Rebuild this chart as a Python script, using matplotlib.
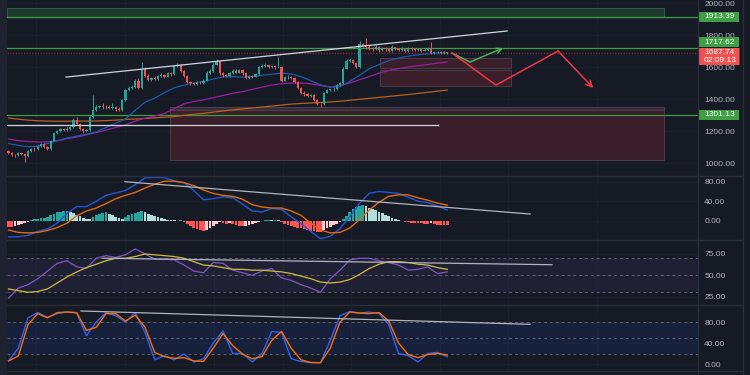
"""
Price chart with MACD / RSI / Stoch panels (dark theme)
"""
import numpy as np
import matplotlib
matplotlib.use("Agg")
import matplotlib.pyplot as plt
from matplotlib.lines import Line2D
from matplotlib.patches import Rectangle
from matplotlib.transforms import blended_transform_factory, ScaledTranslation

plt.rcParams['font.family'] = ['Liberation Sans', 'DejaVu Sans']

# ---------------- data ----------------
first_open = 1075
closes = [1062, 1052, 1048, 1060, 1058, 1046, 1075, 1090, 1085, 1108,
          1118, 1102, 1088, 1140, 1188, 1200, 1210, 1205, 1215, 1222,
          1268, 1245, 1215, 1198, 1205, 1285, 1330, 1350, 1355, 1348,
          1352, 1345, 1350, 1340, 1330, 1395, 1455, 1470, 1475, 1515,
          1470, 1590, 1545, 1520, 1530, 1525, 1545, 1550, 1540, 1560,
          1555, 1608, 1612, 1575, 1545, 1505, 1498, 1495, 1502, 1500,
          1515, 1565, 1575, 1615, 1640, 1560, 1548, 1542, 1560, 1578,
          1565, 1580, 1560, 1530, 1545, 1540, 1555, 1600, 1608, 1612,
          1602, 1605, 1598, 1600, 1515, 1535, 1540, 1530, 1505, 1470,
          1440, 1430, 1420, 1425, 1395, 1370, 1368, 1440, 1455, 1460,
          1462, 1490, 1498, 1590, 1640, 1645, 1625, 1600, 1742, 1730,
          1725, 1718, 1712, 1728, 1705, 1718, 1710, 1700, 1722, 1712,
          1708, 1714, 1700, 1718, 1710, 1705, 1712, 1702, 1708, 1714,
          1688, 1692, 1695, 1688, 1692, 1687.74]
highs = [1082, 1068, 1058, 1066, 1068, 1064, 1080, 1095, 1098, 1114,
         1125, 1124, 1108, 1146, 1194, 1208, 1216, 1218, 1222, 1230,
         1280, 1290, 1250, 1220, 1212, 1292, 1425, 1362, 1365, 1375,
         1362, 1360, 1372, 1356, 1348, 1400, 1462, 1480, 1490, 1522,
         1530, 1630, 1600, 1555, 1540, 1545, 1552, 1560, 1558, 1568,
         1568, 1615, 1622, 1620, 1580, 1550, 1515, 1508, 1510, 1512,
         1522, 1572, 1585, 1622, 1650, 1645, 1568, 1556, 1566, 1585,
         1590, 1588, 1585, 1565, 1550, 1552, 1562, 1606, 1620, 1624,
         1618, 1612, 1610, 1662, 1605, 1542, 1548, 1545, 1535, 1510,
         1475, 1448, 1436, 1432, 1430, 1400, 1378, 1446, 1462, 1468,
         1472, 1496, 1506, 1598, 1648, 1655, 1652, 1632, 1762, 1750,
         1781, 1735, 1728, 1736, 1734, 1726, 1724, 1716, 1740, 1728,
         1720, 1722, 1720, 1725, 1724, 1718, 1720, 1718, 1716, 1722,
         1756, 1700, 1702, 1700, 1698, 1695]
lows = [1055, 1045, 1040, 1044, 1050, 1006, 1040, 1070, 1078, 1080,
        1100, 1096, 1082, 1084, 1136, 1182, 1195, 1198, 1200, 1208,
        1218, 1240, 1208, 1190, 1192, 1200, 1280, 1325, 1342, 1340,
        1340, 1335, 1338, 1325, 1322, 1326, 1390, 1448, 1462, 1468,
        1462, 1465, 1535, 1512, 1510, 1518, 1520, 1538, 1530, 1535,
        1546, 1550, 1600, 1568, 1538, 1498, 1490, 1486, 1488, 1492,
        1495, 1510, 1558, 1570, 1610, 1552, 1540, 1535, 1536, 1555,
        1560, 1560, 1552, 1522, 1525, 1532, 1535, 1550, 1595, 1600,
        1595, 1596, 1590, 1592, 1508, 1510, 1528, 1522, 1498, 1462,
        1432, 1420, 1410, 1412, 1388, 1362, 1352, 1362, 1435, 1448,
        1452, 1456, 1484, 1494, 1585, 1632, 1618, 1592, 1596, 1722,
        1715, 1705, 1700, 1705, 1695, 1698, 1700, 1692, 1695, 1704,
        1700, 1702, 1692, 1695, 1702, 1698, 1700, 1695, 1698, 1702,
        1682, 1682, 1686, 1682, 1684, 1684]

# moving averages / indicator lines, sampled every 3rd candle
ma_blue = [1122, 1110, 1102, 1105, 1122, 1140, 1156, 1168, 1180, 1195,
           1222, 1250, 1275, 1330, 1380, 1405, 1440, 1470, 1487, 1500,
           1510, 1525, 1538, 1540, 1537, 1540, 1548, 1555, 1562, 1556,
           1540, 1515, 1488, 1475, 1476, 1510, 1548, 1590, 1615, 1640,
           1656, 1668, 1676, 1683, 1687, 1689]
ma_purple = [1150, 1140, 1134, 1131, 1132, 1138, 1152, 1162, 1176, 1190,
             1206, 1222, 1238, 1262, 1280, 1293, 1310, 1340, 1370, 1384,
             1394, 1408, 1422, 1436, 1446, 1460, 1474, 1487, 1495, 1500,
             1500, 1495, 1484, 1474, 1485, 1500, 1520, 1540, 1562, 1578,
             1590, 1600, 1608, 1616, 1624, 1631]
ma_orange = [1281, 1274, 1268, 1264, 1262, 1261, 1261, 1262, 1262, 1263,
             1265, 1268, 1272, 1275, 1278, 1282, 1286, 1290, 1298, 1305,
             1310, 1318, 1325, 1332, 1338, 1344, 1350, 1356, 1362, 1368,
             1372, 1375, 1378, 1381, 1386, 1392, 1398, 1404, 1410, 1416,
             1422, 1428, 1435, 1442, 1449, 1456]

macd_line = [-33, -33, -30, -22, -17, -5, 15, 29, 29, 40,
             52, 57, 62, 74, 88, 89, 88, 82, 78, 62,
             43, 45, 49, 47, 34, 20, 18, 25, 23, 8,
             -6, -22, -37, -32, -16, 8, 36, 56, 60, 58,
             56, 48, 40, 37, 30, 22]
signal_line = [-19, -24, -25, -24, -20, -14, -5, 10, 20, 26,
               35, 45, 52, 58, 67, 75, 81, 81, 78, 72,
               63, 56, 52, 50, 44, 33, 28, 26, 26, 20,
               11, -5, -19, -25, -24, -15, 2, 22, 38, 50,
               53, 53, 47, 42, 36, 32]
macd_hist = [-12, -12, -11, -9, -7, -5, -2, 1, 3, 4,
             5, 6, 8, 11, 14, 17, 18, 19, 19, 18,
             15, 12, 9, 6, 4, 3, 7, 11, 14, 16,
             17, 14, 11, 8, 5, 4, 8, 12, 14, 16,
             17, 19, 17, 14, 12, 10, 8, 6, 4, 2,
             1, 0.5, -1, 0.5, -3, -6, -10, -14, -17, -19,
             -21, -19, -15, -11, -7, -3, -4, -6, -5, -7,
             -9, -10, -11, -10, -8, -6, -4, -2, -1, 1,
             1.5, 1, 1.5, 0.5, -3, -6, -8, -10, -12, -14,
             -16, -18, -20, -21, -22, -23, -23, -20, -16, -12,
             -9, -6, -3, 3, 10, 18, 24, 28, 31, 32,
             30, 27, 24, 21, 18, 15, 12, 9, 6, 4,
             2, -1, -2, -3, -4, -5, -5, -5, -6, -6,
             -5, -7, -8, -8, -8, -9]

rsi = [23, 35, 39, 46, 55, 64, 67, 60, 58, 70,
       73, 71, 74, 81, 75, 69, 69, 68, 62, 55,
       53, 65, 64, 56, 53, 50, 55, 58, 47, 44,
       39, 35, 30, 46, 56, 68, 70, 70, 67, 65,
       62, 56, 57, 60, 52, 54]
rsi_ma = [34, 32, 30, 31, 34, 41, 48, 54, 59, 63,
          67, 70, 70, 72, 75, 74, 73, 72, 70, 66,
          62, 61, 59, 57, 57, 56, 56, 55, 54, 52,
          49, 46, 42, 41, 42, 45, 51, 58, 63, 66,
          66, 65, 63, 62, 59, 57]

stoch_k = [6, 30, 88, 98, 89, 96, 99, 97, 54, 80,
           98, 92, 80, 98, 60, 8, 16, 8, 19, 4,
           10, 40, 63, 20, 20, 4, 20, 62, 60, 10,
           5, 2.5, 2.5, 45, 92, 100, 97, 99, 96, 75,
           20, 16, 4, 20, 22, 14]
stoch_d = [6, 15, 75, 96, 88, 98, 99, 98, 64, 70,
           96, 96, 82, 93, 70, 22, 14, 11, 12, 6,
           5, 30, 58, 35, 19, 10, 14, 45, 62, 30,
           8, 3, 2.5, 30, 80, 99, 97, 96, 98, 82,
           40, 18, 12, 18, 20, 17]

# drawings (candle index, value)
trend_main = ([17.7, 153.4], [1537, 1825])
hline_white = ([-0.5, 132.2], [1239, 1239])
trend_macd = ([35.8, 160.5], [80, 13.7])
trend_rsi = ([29.1, 167.2], [70, 62.4])
trend_stoch = ([22.3, 160.5], [101, 75.6])
green_zone = (-0.5, 201.7, 1913.39, 1969)
red_zones = [(49.7, 201.7, 1019, 1330), (114.3, 154.6, 1596, 1656), (114.3, 154.6, 1481, 1581)]
grey_zones = [(49.7, 201.7, 1331, 1352)]
green_levels = [1913.39, 1717.62, 1301.13]
last_price = 1687.74
green_path = ([136.5, 142.0, 152.2], [1687, 1631, 1719])
red_path = ([136.5, 150.0, 169.1, 179.9], [1687, 1487, 1700, 1469])
grid_x = [8.5, 35.8, 63.2, 84.5, 105.4, 132.8, 153.7, 181.1]

# ---------------- style ----------------
BG = '#161a25'
TXT = '#b2b5be'
SEP = '#2a2e39'
GRID = '#1d2130'
UP, DOWN = '#26a69a', '#ef5350'
W, H = 750, 375
XLIM = (-0.46, 212.15)

fig = plt.figure(figsize=(7.5, 3.75), dpi=100, facecolor=BG)


def px_axes(top, bottom):
    return fig.add_axes([7 / W, 1 - bottom / H, 691 / W, (bottom - top) / H])


def style(ax, ylim, ticks):
    ax.set_facecolor(BG)
    ax.set_xlim(*XLIM)
    ax.set_ylim(*ylim)
    for s in ax.spines.values():
        s.set_visible(False)
    ax.set_xticks([])
    ax.yaxis.tick_right()
    ax.set_yticks(ticks)
    ax.set_yticklabels(['%.2f' % t for t in ticks])
    ax.tick_params(axis='y', length=0, pad=4.5, labelsize=6, labelcolor=TXT)
    for t in ticks:
        ax.axhline(t, color=GRID, lw=0.6, zorder=0)
    for gx in grid_x:
        ax.axvline(gx, color=GRID, lw=0.6, zorder=0)


ax_p = px_axes(0, 176)
ax_m = px_axes(176, 240)
ax_r = px_axes(240, 304)
ax_s = px_axes(305, 370)

style(ax_p, (918.75, 2018.75), [1000, 1200, 1400, 1600, 1800, 2000])
style(ax_m, (-39.6, 91.7), [0, 40, 80])
style(ax_r, (16.3, 91.4), [25, 50, 75])
style(ax_s, (-11.4, 112.4), [0, 40, 80])

# ---- main panel ----
x0, x1, y0, y1 = green_zone
ax_p.add_patch(Rectangle((x0, y0), x1 - x0, y1 - y0, facecolor='#1e3a2c',
                         edgecolor='#2f5a3f', lw=0.8, zorder=1))
for x0, x1, y0, y1 in red_zones:
    ax_p.add_patch(Rectangle((x0, y0), x1 - x0, y1 - y0, facecolor='#3a1e2a',
                             edgecolor='#4b3a44', lw=0.8, zorder=1))
for x0, x1, y0, y1 in grey_zones:
    ax_p.add_patch(Rectangle((x0, y0), x1 - x0, y1 - y0, facecolor='#3a2d3a',
                             edgecolor='#4b3d4a', lw=0.8, zorder=1))

for lv in green_levels:
    ax_p.axhline(lv, color='#3f9a44', lw=0.9, zorder=2)
ax_p.axhline(last_price, color='#8a2a35', lw=0.9, ls=(0, (1, 1.2)), zorder=2)

idx = np.arange(len(closes))
opens = np.array([first_open] + closes[:-1], dtype=float)
c = np.array(closes, dtype=float)
cols = [UP if cc >= oo else DOWN for oo, cc in zip(opens, c)]
idx3 = np.arange(0, len(closes), 3)

ax_p.plot(idx3, ma_orange, color='#b8601e', lw=0.9, zorder=3)
ax_p.plot(idx3, ma_purple, color='#9a1f9e', lw=0.9, zorder=3)
ax_p.plot(idx3, ma_blue, color='#1f5aa8', lw=0.9, zorder=3)

ax_p.vlines(idx, lows, highs, colors=cols, lw=0.7, zorder=4)
body = np.maximum(np.abs(c - opens), 3)
ax_p.bar(idx, body, bottom=np.minimum(c, opens), width=0.7, color=cols, zorder=5)

ax_p.plot(*trend_main, color='#d1d4dc', lw=0.9, zorder=6)
ax_p.plot(*hline_white, color='#d1d4dc', lw=0.9, zorder=6)

for path, col, ms in [(green_path, '#4caf50', 9), (red_path, '#f23645', 11)]:
    xs, ys = path
    ax_p.plot(xs[:-1], ys[:-1], color=col, lw=1.1, zorder=7, solid_joinstyle='miter')
    ax_p.annotate('', xy=(xs[-1], ys[-1]), xytext=(xs[-2], ys[-2]), zorder=7,
                  arrowprops=dict(arrowstyle='->', color=col, lw=1.1,
                                  mutation_scale=ms, shrinkA=0, shrinkB=0))


def tag(ax, y, text, color, dy=0, h=10):
    tr = blended_transform_factory(ax.transAxes, ax.transData) + \
        ScaledTranslation(0, dy / 100, fig.dpi_scale_trans)
    ax.plot([1.0, 1.0 + 41 / 691], [y, y], transform=tr, lw=h * 0.72, color=color,
            solid_capstyle='butt', clip_on=False, zorder=10)
    ax.text(1.0 + 6 / 691, y, text, transform=tr, va='center', ha='left', fontsize=6,
            color='white', clip_on=False, zorder=11, linespacing=1.25)


tag(ax_p, green_levels[0], '1913.39', '#3fa043')
tag(ax_p, green_levels[1], '1717.62', '#3fa043', dy=6)
tag(ax_p, green_levels[2], '1301.13', '#3fa043')
tag(ax_p, last_price, '1687.74\n02:09:13', '#f05252', dy=-3.5, h=17)

# ---- MACD ----
hcols = []
for i, h in enumerate(macd_hist):
    prev = macd_hist[i - 1] if i else h
    if h >= 0:
        hcols.append('#26a69a' if h >= prev else '#b2dfdb')
    else:
        hcols.append('#ffcdd2' if h > prev else '#ff5252')
ax_m.bar(idx, macd_hist, width=0.8, color=hcols, zorder=2)
ax_m.plot(idx3, macd_line, color='#2456d8', lw=1.0, zorder=3)
ax_m.plot(idx3, signal_line, color='#e06a10', lw=1.0, zorder=3)
ax_m.plot(*trend_macd, color='#b2b5be', lw=0.9, zorder=4)

# ---- RSI ----
ax_r.axhspan(30, 70, color='#7e57c2', alpha=0.1, lw=0, zorder=1)
for lv in [30, 50, 70]:
    ax_r.axhline(lv, color='#5d606b', lw=0.7, ls=(0, (3, 3)), zorder=1)
ax_r.plot(idx3, rsi, color='#7e57c2', lw=0.9, zorder=3)
ax_r.plot(idx3, rsi_ma, color='#cdbd3c', lw=0.9, zorder=3)
ax_r.plot(*trend_rsi, color='#b2b5be', lw=0.9, zorder=4)

# ---- Stoch ----
ax_s.axhspan(20, 80, color='#2962ff', alpha=0.1, lw=0, zorder=1)
for lv in [20, 50, 80]:
    ax_s.axhline(lv, color='#5d606b', lw=0.7, ls=(0, (3, 3)), zorder=1)
ax_s.plot(idx3, stoch_k, color='#2962ff', lw=1.0, zorder=3)
ax_s.plot(idx3, stoch_d, color='#ff6d00', lw=1.0, zorder=3)
ax_s.plot(*trend_stoch, color='#b2b5be', lw=0.9, zorder=4)

# ---- frame / separators ----
fig.add_artist(Rectangle((0, 0), 7 / W, 1, transform=fig.transFigure,
                         facecolor='#1f2330', lw=0, zorder=0))
for yy in [176, 240, 304.5, 370.5]:
    fig.add_artist(Line2D([7 / W, 743 / W], [1 - yy / H] * 2, color=SEP, lw=1.0))
for xx in [698, 743]:
    fig.add_artist(Line2D([xx / W] * 2, [0, 1], color=SEP, lw=1.0))

fig.savefig('out.png', dpi=100, facecolor=BG)
